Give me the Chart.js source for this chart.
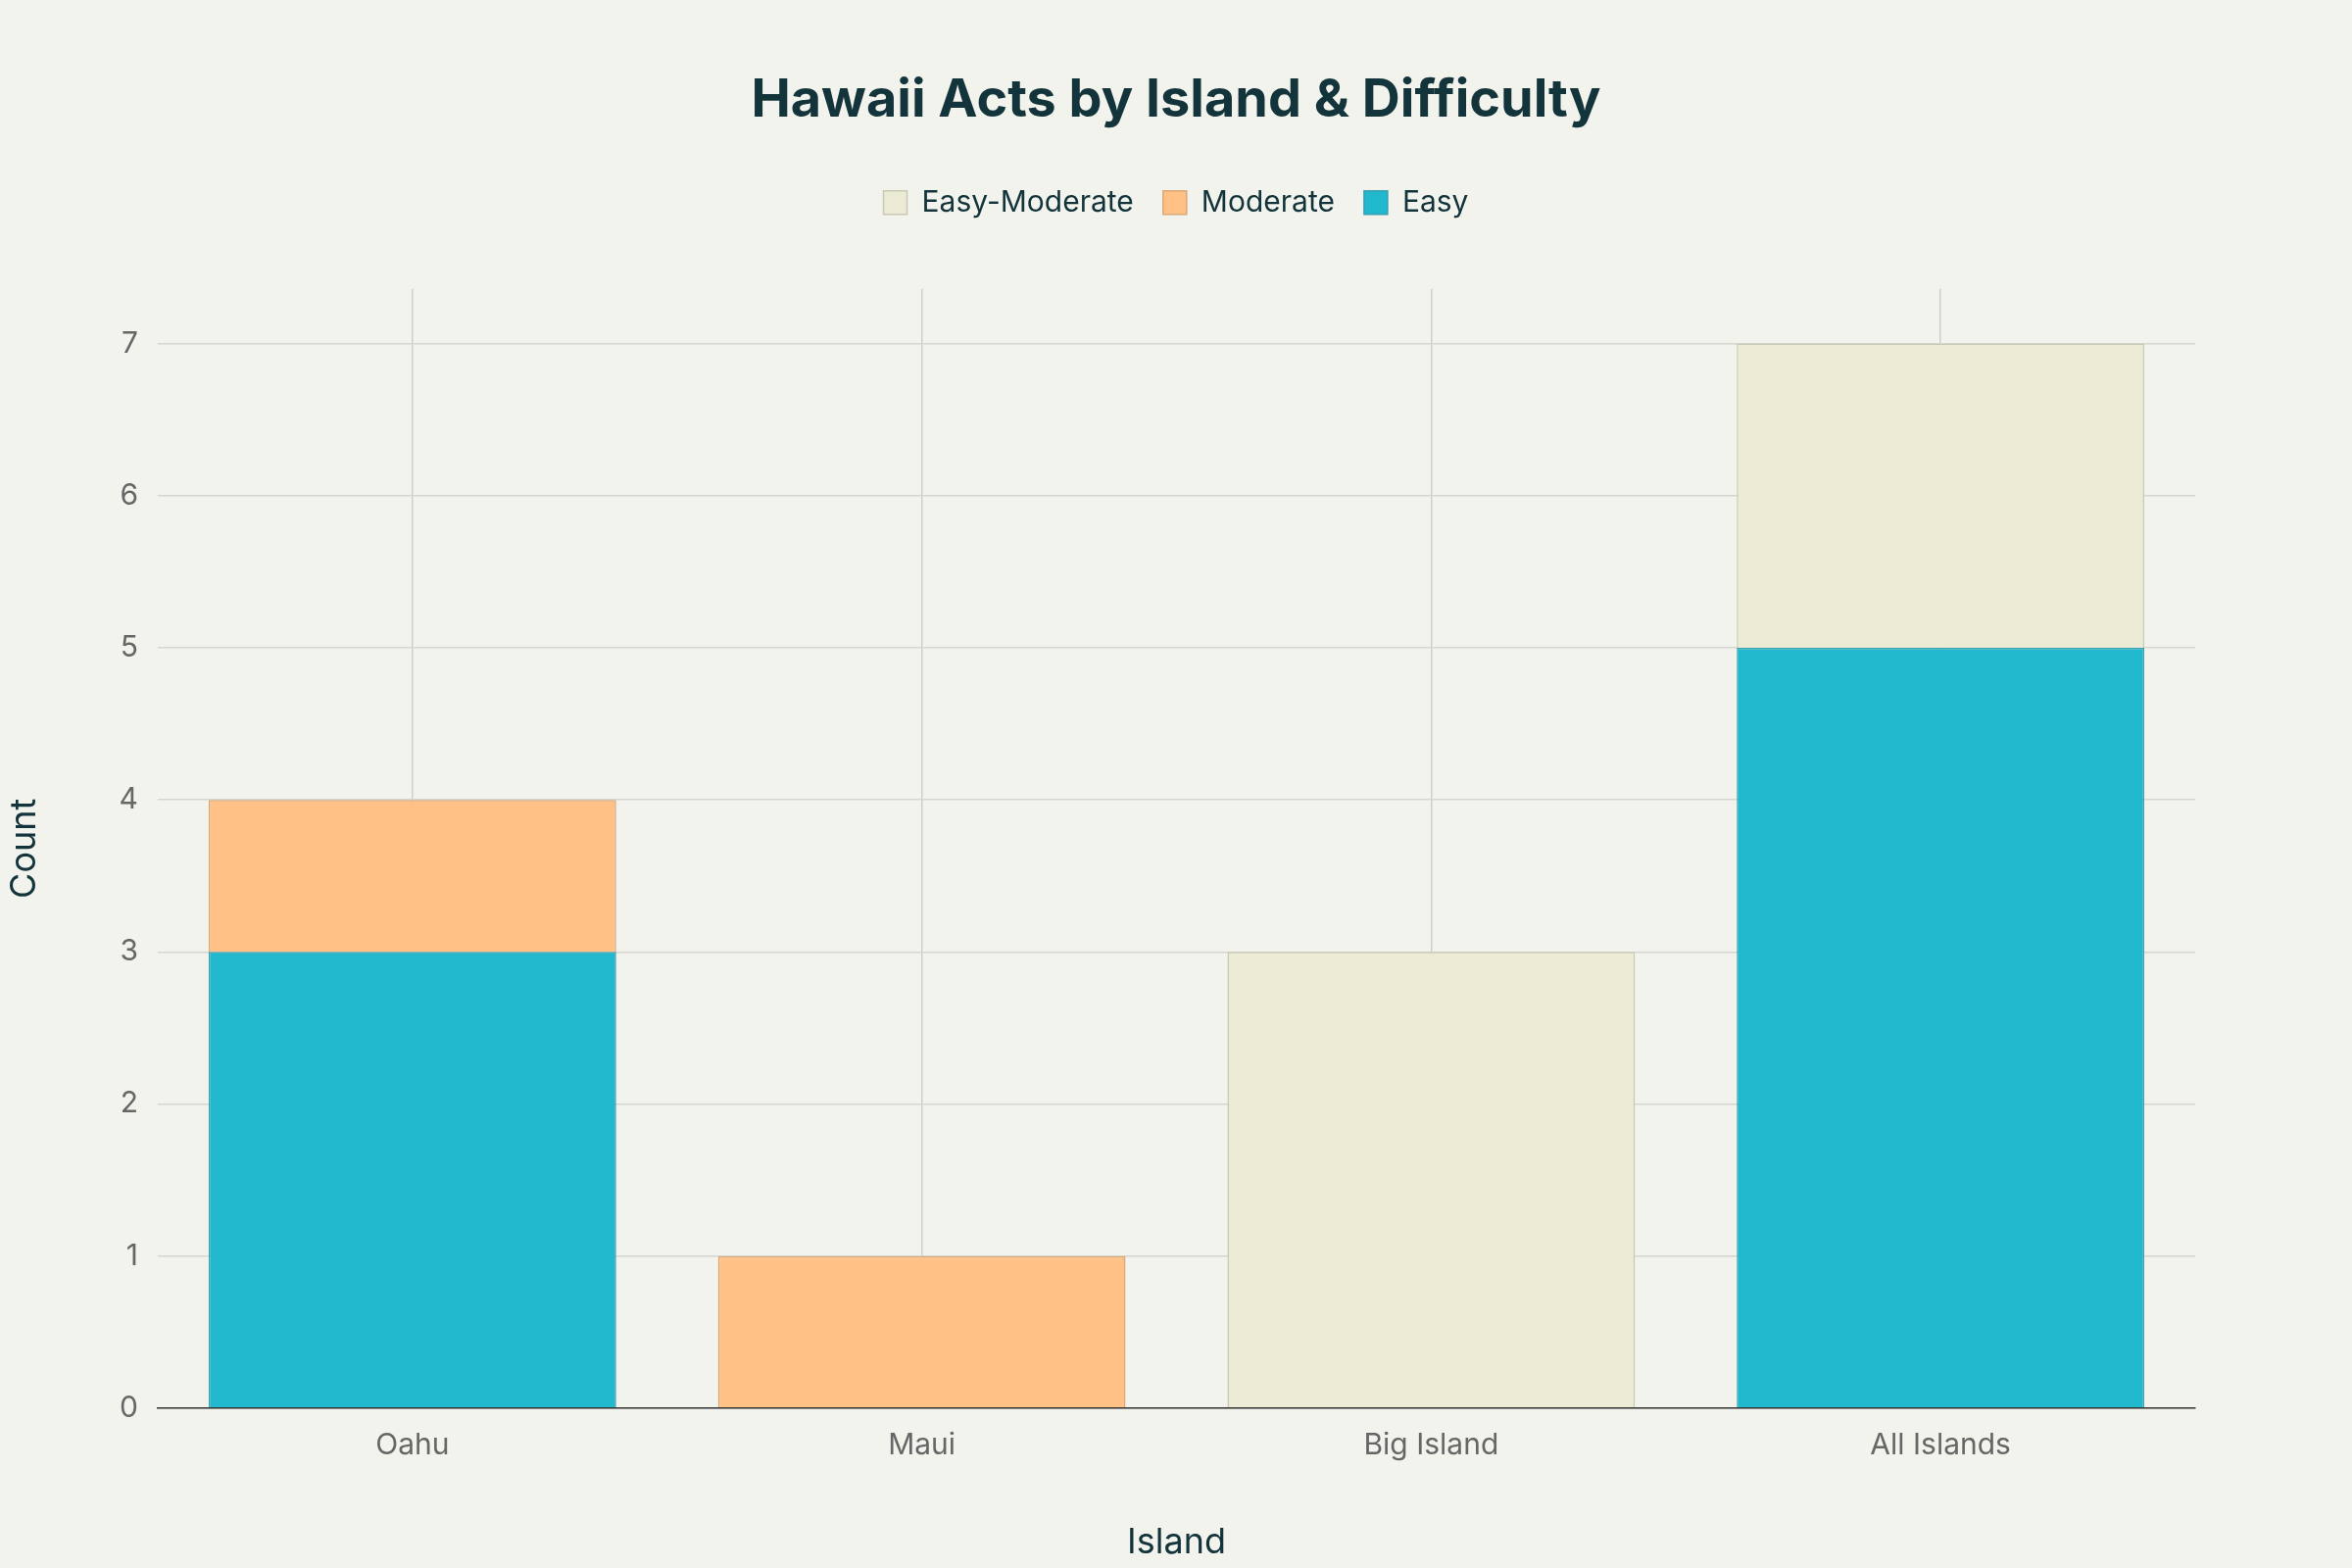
<!DOCTYPE html>
<html>
<head>
<meta charset="utf-8">
<script src="https://cdn.jsdelivr.net/npm/chart.js@4.4.1/dist/chart.umd.min.js"></script>
<style>
  html, body { margin: 0; padding: 0; background: #F3F3EE; }
  #wrap { width: 2400px; height: 1600px; }
</style>
</head>
<body>
<div id="wrap"><canvas id="grafico"></canvas></div>
<script>
// Datos
const islas = ['Oahu', 'Maui', 'Big Island', 'All Islands'];
const facil = [3, 0, 0, 5];
const moderado = [1, 1, 0, 0];
const facilModerado = [0, 0, 3, 2];
const ticksY = [0, 1, 2, 3, 4, 5, 6, 7];

const FUENTE = '"Inter", "Open Sans", sans-serif';
const COLOR_TEXTO = '#13343B';

function serie(label, data, color, borde) {
    return {
        label, data,
        backgroundColor: color, borderColor: borde, borderWidth: 1.5,
        categoryPercentage: 0.8, barPercentage: 1.0
    };
}

// Deja más aire entre la leyenda y el área del gráfico
const espacioLeyenda = {
    id: 'espacioLeyenda',
    beforeInit(chart) {
        const fitOriginal = chart.legend.fit;
        chart.legend.fit = function () {
            fitOriginal.bind(chart.legend)();
            this.height += 63;
        };
    }
};

new Chart(document.getElementById('grafico'), {
    type: 'bar',
    data: {
        labels: islas,
        datasets: [
            serie('Easy', facil, '#1FB8CD', '#3a9fb0'),
            serie('Moderate', moderado, '#FFC185', '#d9a877'),
            serie('Easy-Moderate', facilModerado, '#ECEBD5', '#c9c8b5')
        ]
    },
    plugins: [espacioLeyenda],
    options: {
        responsive: true,
        maintainAspectRatio: false,
        animation: false,
        layout: { padding: { left: 0, right: 0, top: 30, bottom: 0 } },
        scales: {
            x: {
                stacked: true,
                grid: { color: '#cfcfca', lineWidth: 1.5, offset: false, drawTicks: false },
                border: { display: true, color: '#333', width: 1.5 },
                ticks: { color: '#666', font: { family: FUENTE, size: 30 }, padding: 20 },
                title: { display: true, text: 'Island', color: COLOR_TEXTO, font: { family: FUENTE, size: 36 }, padding: { top: 40 } }
            },
            y: {
                stacked: true,
                min: 0, max: 7.36,
                afterBuildTicks: (eje) => { eje.ticks = ticksY.map(v => ({ value: v })); },
                afterFit: (eje) => { eje.width = 161; },
                grid: { color: '#d6d6d0', lineWidth: 1.5, drawTicks: false },
                border: { display: false },
                ticks: { color: '#666', font: { family: FUENTE, size: 30 }, padding: 20 },
                title: { display: true, text: 'Count', color: COLOR_TEXTO, font: { family: FUENTE, size: 36 }, padding: { bottom: 20 } }
            },
            derecha: {
                position: 'right',
                display: true,
                afterFit: (eje) => { eje.width = 160; },
                grid: { display: false },
                border: { display: false },
                ticks: { display: false }
            }
        },
        plugins: {
            title: {
                display: true, text: 'Hawaii Acts by Island & Difficulty',
                color: COLOR_TEXTO, font: { family: FUENTE, size: 54, weight: 'bold' },
                padding: { top: 40, bottom: 27 }
            },
            legend: {
                reverse: true,
                labels: {
                    color: COLOR_TEXTO, font: { family: FUENTE, size: 30 },
                    boxWidth: 24, boxHeight: 24, padding: 30
                }
            },
            tooltip: { enabled: false }
        }
    }
});
</script>
</body>
</html>
